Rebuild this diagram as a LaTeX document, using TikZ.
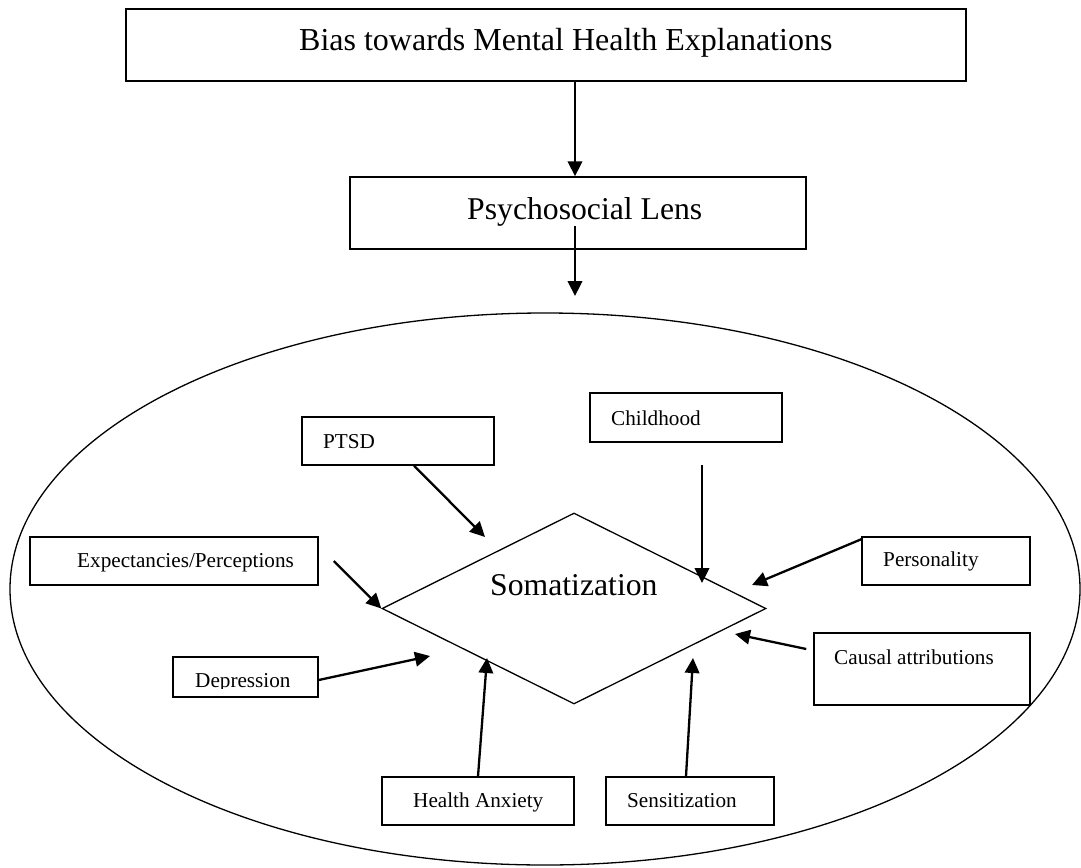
\documentclass[tikz,border=0pt]{standalone}
\usepackage{fontspec}
\setmainfont{Liberation Serif}
\usetikzlibrary{arrows.meta,shapes.geometric}
\begin{document}
\begin{tikzpicture}[x=1pt,y=-1pt,
  boxnode/.style={draw=black,line width=1.5pt,inner sep=0pt,rectangle},
  lbl/.style={inner sep=0pt,anchor=base west,font=\fontsize{21.2}{25}\selectfont},
  biglbl/.style={inner sep=0pt,anchor=base west,font=\fontsize{31.7}{38}\selectfont},
  arr/.style={line width=2.3pt,-{Triangle[length=15pt,width=14.5pt]}},
  thinline/.style={draw=black,line width=1.3pt}]
\useasboundingbox (0,0) rectangle (1081,867);
\fill[white] (0,0) rectangle (1081,867);

% big ellipse
\draw[thinline] (545,589) ellipse [x radius=535pt, y radius=276pt];

% diamond
\node[thinline,diamond,shape aspect=2,inner sep=0pt,minimum width=384pt,minimum height=191pt] (soma) at (574,608.5) {};
\node[biglbl] (somatext) at (490,595) {Somatization};

% top boxes
\node[boxnode,minimum width=840pt,minimum height=72pt] (bias) at (546,45) {};
\node[inner sep=0pt,anchor=base west,font=\fontsize{32}{38}\selectfont] (biastext) at (299,51) {Bias towards Mental Health Explanations};
\node[boxnode,minimum width=456pt,minimum height=72pt] (psy) at (578,213) {};
\node[biglbl] (psytext) at (467,219) {Psychosocial Lens};

% factor boxes
\node[boxnode,minimum width=192pt,minimum height=48pt] (ptsd) at (398,441) {};
\node[lbl] (ptsdtext) at (323,448) {PTSD};
\node[boxnode,minimum width=192pt,minimum height=49pt] (child) at (686,417.5) {};
\node[lbl] (childtext) at (611,425) {Childhood};
\node[boxnode,minimum width=288pt,minimum height=48pt] (expt) at (174,561) {};
\node[lbl] (expttext) at (77,567) {Expectancies/Perceptions};
\node[boxnode,minimum width=168pt,minimum height=48pt] (pers) at (946,561) {};
\node[lbl] (perstext) at (883,566) {Personality};
\node[boxnode,minimum width=145pt,minimum height=40pt] (dep) at (245.5,677) {};
\begin{scope}
  \clip (175,658) rectangle (316,688);
  \node[lbl] (deptext) at (195,687) {Depression};
\end{scope}
\node[boxnode,minimum width=216pt,minimum height=72pt] (caus) at (922,669) {};
\node[lbl] (caustext) at (834,664) {Causal attributions};
\node[boxnode,minimum width=192pt,minimum height=48pt] (health) at (478,801) {};
\node[lbl] (healthtext) at (413,807) {Health Anxiety};
\node[boxnode,minimum width=168pt,minimum height=48pt] (sens) at (690,801) {};
\node[lbl] (senstext) at (627,807) {Sensitization};

% free arrow ends
\coordinate (ellin) at (575,296);
\coordinate (tipptsd) at (485,537);
\coordinate (tipchild) at (702,583);
\coordinate (tippers) at (752,585);
\coordinate (tipcaus) at (735,634);
\coordinate (tipdep) at (430,656);
\coordinate (tiphealth) at (487,658);
\coordinate (tipsens) at (693,658);

% arrows
\draw[arr] ([xshift=29pt]bias.south) -- ([xshift=-3pt]psy.north);
\draw[arr] ([xshift=-3pt,yshift=24pt]psy.south) -- (ellin);
\draw[arr] ([xshift=16pt]ptsd.south) -- (tipptsd);
\draw[arr] ([xshift=16pt,yshift=-22pt]child.south) -- (tipchild);
\draw[arr] ([xshift=15pt]expt.east) -- (soma.west);
\draw[arr] ([yshift=-3pt]pers.north west) -- (tippers);
\draw[arr] ([xshift=-7pt,yshift=20pt]caus.west) -- (tipcaus);
\draw[arr] ([yshift=-3pt]dep.east) -- (tipdep);
\draw[arr] (health.north) -- (tiphealth);
\draw[arr] ([xshift=-4pt]sens.north) -- (tipsens);
\end{tikzpicture}
\end{document}
